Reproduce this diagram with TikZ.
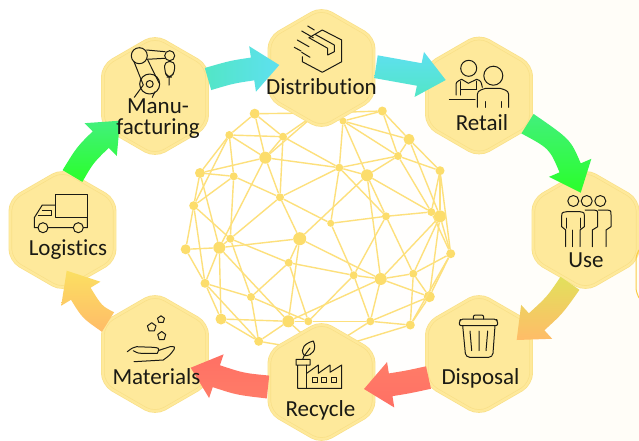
\documentclass[tikz,border=0pt]{standalone}
\usepackage{fontspec}
\setmainfont{Carlito}[Ligatures=NoCommon]
\usetikzlibrary{calc,shapes.geometric}

\definecolor{globecol}{HTML}{FCDD6C}
\definecolor{globeline}{HTML}{FDE07C}
\definecolor{hexfill}{HTML}{FEE99B}
\definecolor{hexline}{HTML}{F9E088}
\definecolor{inkcol}{HTML}{1A1A14}
\definecolor{bgcream}{HTML}{FFFDF7}
\definecolor{arcgold}{HTML}{FBCB45}
\definecolor{limecol}{HTML}{2AFF2A}
\definecolor{mintcol}{HTML}{42F07C}
\definecolor{tealcol}{HTML}{52E6C6}
\definecolor{cyancol}{HTML}{5EE0F0}
\definecolor{corecol}{HTML}{FF7064}
\definecolor{salmoncol}{HTML}{FF7C68}
\definecolor{ambercol}{HTML}{FFBC68}
\definecolor{sandcol}{HTML}{FBDF62}
\definecolor{olivecol}{HTML}{E2E05C}

\tikzset{
  hexcell/.style={regular polygon,regular polygon sides=6,shape border rotate=30,minimum size=120.5pt,inner sep=0pt,
    rounded corners=11pt,fill=hexfill,draw=hexline,line width=0.7pt,double=hexfill,double distance=2.2pt},
  hexlabel/.style={text=inkcol,font=\fontsize{23}{21}\selectfont,inner sep=0pt,align=center},
  icon/.style={draw=inkcol,line width=1pt,line join=round,line cap=round}
}

% body of a gradient arrow: tail, bend, tip, shading
\newcommand{\flowarrow}[4]{%
  \coordinate (neck) at ($(#3)!27pt!(#2)$);
  \shade[#4] ($(#1)!11.5pt!90:(#2)$) .. controls ($(#2)!11.5pt!90:(neck)$) .. ($(neck)!11.5pt!90:(#3)$)
    -- ($(neck)!23pt!90:(#3)$) -- (#3) -- ($(neck)!23pt!-90:(#3)$) -- ($(neck)!11.5pt!-90:(#3)$)
    .. controls ($(#2)!11.5pt!-90:(neck)$) .. ($(#1)!11.5pt!-90:(#2)$) -- cycle;
}

\begin{document}
\begin{tikzpicture}[x=1pt,y=-1pt]
\useasboundingbox (0,0) rectangle (639,440);
\shade[left color=white,right color=bgcream,middle color=white] (0,0) rectangle (639,440);

% globe
\begin{scope}[every node/.style={circle,fill=globecol,inner sep=0pt},
              every edge/.style={draw=globeline,line width=1.4pt}]
\foreach \pname/\px/\py/\psize in {
    gA/254.7/113.7/10, gB/229.3/135/8, gC/283/136.7/8, gD/265.3/157.7/12, gE/200/173/10,
    gF/233.7/176.3/8, gG/193.7/205.7/9, gH/280/197.3/8, gI/230.3/238.7/8, gJ/219.3/247.7/12,
    gK/185.7/249.3/10, gL/299.7/238.7/13, gM/288.7/262.7/8, gN/205/283.3/9, gO/251/297/8,
    gP/221/319/11, gQ/288.3/321.3/12, gR/308.3/321.3/8, gS/258.7/341.3/9, gT/330.7/223.3/7,
    gU/339.3/167.7/8, gV/367/175.3/12, gW/343/121/7, gX/382.3/111/9, gY/409/139.3/11,
    gZ/398/156/8, ga/440/170.7/9, gb/386/216.3/8, gc/431.3/212/8, gd/440/216.3/12,
    ge/450.7/253.7/9, gf/413.3/273.7/8, gg/380.7/279/12, gh/353.7/275.3/8, gi/429.3/296.7/11,
    gj/370.3/321.3/8, gk/410.3/325/9, gm/317/113/7, gn/322/352/7}
  \node[minimum size=\psize pt] (\pname) at (\px,\py) {};
\foreach \from/\to in {
    gA/gB, gA/gD, gA/gm, gA/gC, gB/gC, gB/gD, gB/gF, gB/gE, gB/gG, gC/gD, gC/gH, gC/gU, gC/gm,
    gD/gE, gD/gH, gD/gJ, gD/gU, gU/gV, gE/gG, gE/gJ, gE/gF, gF/gG, gF/gH, gF/gI, gG/gK, gG/gI,
    gG/gN, gH/gI, gH/gU, gH/gL, gH/gT, gI/gJ, gI/gO, gI/gM, gJ/gK, gJ/gL, gJ/gN, gJ/gP, gJ/gQ,
    gK/gN, gL/gM, gL/gV, gL/gg, gL/gQ, gM/gO, gM/gR, gM/gh, gN/gO, gN/gP, gN/gS, gO/gS, gO/gR,
    gP/gQ, gP/gS, gQ/gR, gQ/gg, gQ/gS, gQ/gn, gR/gh, gR/gj, gT/gU, gT/gb, gT/gh, gU/gb, gU/gW,
    gU/gZ, gV/gb, gV/gg, gV/gZ, gV/gc, gV/gW, gW/gZ, gW/gX, gW/gY, gX/gY, gX/gZ, gX/gm, gY/gZ,
    gY/ga, gY/gd, gZ/gc, gZ/ga, ga/gc, ga/gd, ga/ge, gb/gc, gb/gf, gb/gh, gc/gd, gc/ge, gd/ge,
    gd/gf, gd/gg, gd/gi, gf/ge, gf/gg, gf/gi, gf/gk, gg/gh, gg/gi, gg/gj, gh/gj, gi/ge, gi/gj,
    gi/gk, gj/gk, ge/gk, gj/gn, gk/gn, gS/gn, gm/gW, gm/gD}
  \path (\from) edge (\to);
\end{scope}

% cells
\node[hexcell] (distribution) at (321.5,68) {};
\node[hexcell] (retail) at (479,95.5) {};
\node[hexcell] (use) at (585.5,230) {};
\node[hexcell] (disposal) at (479,354) {};
\node[hexcell] (recycle) at (321.5,382) {};
\node[hexcell] (materials) at (155,354) {};
\node[hexcell] (logistics) at (62.5,230) {};
\node[hexcell] (manu) at (155,96) {};

% cut off cell at the right edge
\coordinate (arcstart) at (639,250);
\coordinate (arcend) at (639,298);
\draw[arcgold,line width=1pt] (arcstart) .. controls (636,256) .. (636,264) -- (636,284) .. controls (636,291) .. (arcend);

% flow arrows
\coordinate (manuout) at (208,79);
\coordinate (manubend) at (232,72);
\coordinate (distin) at (279.3,65);
\flowarrow{manuout}{manubend}{distin}{left color=tealcol,right color=cyancol}
\coordinate (distout) at (376,66.7);
\coordinate (distbend) at (398,70);
\coordinate (retailin) at (445.7,80);
\flowarrow{distout}{distbend}{retailin}{top color=cyancol,bottom color=tealcol}
\coordinate (retailout) at (527.5,123.7);
\coordinate (retailbend) at (560,144);
\coordinate (usein) at (580.7,192.7);
\flowarrow{retailout}{retailbend}{usein}{top color=mintcol,bottom color=limecol}
\coordinate (useout) at (570,283.3);
\coordinate (usebend) at (555,305);
\coordinate (disposalin) at (516.7,340);
\flowarrow{useout}{usebend}{disposalin}{top color=olivecol,middle color=sandcol,bottom color=ambercol}
\coordinate (disposalout) at (428.5,377.5);
\coordinate (disposalbend) at (408,382);
\coordinate (recyclein) at (364,389);
\flowarrow{disposalout}{disposalbend}{recyclein}{top color=salmoncol,bottom color=corecol}
\coordinate (recycleout) at (268,387);
\coordinate (recyclebend) at (240,384);
\coordinate (materialsin) at (190.7,367.7);
\flowarrow{recycleout}{recyclebend}{materialsin}{top color=corecol,bottom color=salmoncol}
\coordinate (materialsout) at (108,322);
\coordinate (materialsbend) at (92,312);
\coordinate (logisticsin) at (66.7,270.7);
\flowarrow{materialsout}{materialsbend}{logisticsin}{top color=sandcol,bottom color=ambercol}
\coordinate (logisticsout) at (72.5,176);
\coordinate (logisticsbend) at (85,155);
\coordinate (manuin) at (120,120.7);
\flowarrow{logisticsout}{logisticsbend}{manuin}{top color=mintcol,bottom color=limecol}

% labels
\node[hexlabel] (manutext) at (158,119) {Manu-\\[0pt]facturing};
\node[hexlabel] (distributiontext) at (321.5,87) {Distribution};
\node[hexlabel] (retailtext) at (482,122.5) {Retail};
\node[hexlabel] (usetext) at (586,260) {Use};
\node[hexlabel] (disposaltext) at (480.5,378) {Disposal};
\node[hexlabel] (recycletext) at (320.5,410) {Recycle};
\node[hexlabel] (materialstext) at (156.5,377) {Materials};
\node[hexlabel] (logisticstext) at (68,250) {Logistics};

% robot
\draw[icon] (139.3,55.7) circle (8) (169.7,55.7) circle (5) (149.7,84) circle (10) (149.7,84) circle (3.5);
\draw[icon] (146.7,50) -- (165,51.7) (146.7,59.3) -- (165,58.3) (169,76.7) -- (169,85);
\draw[icon,rounded corners=4pt] (164.7,61.7) -- (174.7,61.7) -- (174.7,72) -- (171,77) -- (167.5,77) -- (164.7,72) -- cycle;
\draw[icon] (134,61.7) -- (143.3,85) -- (134.3,97.3) (147.7,60) -- (159.3,83.3) (155,91.7) -- (152.3,97.3);
% box
\draw[icon] (309,37.7) -- (322.3,30) -- (341.7,40) -- (341.7,61.7) -- (322.3,72.3) -- (302.3,61.7) -- (302.3,56.7);
\draw[icon] (315,34.3) -- (334.3,45) -- (334.3,51.7) -- (327.7,55) -- (327.7,48.3) -- (309,37.7);
\draw[icon] (307.7,26) -- (314.3,30) (301.7,31) -- (313.3,37.7) (297.3,40) -- (309,46.7) (294.3,47.3) -- (301,51) (301.7,52.3) -- (310,57.3);
% retail
\draw[icon] (468.7,68.3) circle (8) (493.3,75.7) circle (9.5);
\draw[icon] (456,95) -- (456,86.7) .. controls (456,82) .. (461.7,79.3) -- (468.3,83.3) -- (476.7,79.3) .. controls (481,81) .. (482.3,87.3);
\draw[icon] (460.7,95) -- (460.7,81.7) (476.7,81) -- (476.7,89.3) (460.7,89.3) -- (476.7,89.3) (449.3,99) -- (475,99);
\draw[icon] (477.3,107.3) -- (477.3,98.3) .. controls (477.3,91) .. (485.7,88.3) -- (500,88.3) .. controls (508.7,91) .. (508.7,98.3) -- (508.7,107.3);
\draw[icon] (485.7,101.7) -- (485.7,107.3) (501,101.7) -- (501,107.3);
% people
\draw[icon] (573.3,201) circle (5.5) (586.7,201) circle (5.5) (600.3,201) circle (5.5);
\draw[icon] (565.7,246.7) -- (565.7,230) -- (561.7,226.7) -- (561.7,216.7) .. controls (561.7,212.5) .. (566.7,211.7) -- (580,211.7) .. controls (584.3,212.5) .. (584.3,216.7) -- (584.3,226.7) -- (580,230) -- (580,246.7);
\draw[icon] (572.7,230) -- (572.7,246.7) (566,218) -- (566,228) (580,218) -- (580,228);
\draw[icon] (585,210) -- (593.3,210) .. controls (597.7,210.5) .. (597.7,215) -- (597.7,226.7) -- (592.3,230) -- (592.3,246.7);
\draw[icon] (598.3,210) -- (606.7,210) .. controls (611,210.5) .. (611,215) -- (611,226.7) -- (606,230) -- (606,246.7);
% bin
\draw[icon,rounded corners=2pt] (459.3,325.7) -- (459.3,321) -- (461,319) -- (496,319) -- (497.7,321) -- (497.7,325.7) -- cycle;
\draw[icon,rounded corners=2pt] (473.3,319) -- (473.3,315) -- (483.7,315) -- (483.7,319);
\draw[icon,rounded corners=4pt] (462.7,325.7) -- (465.7,357.3) -- (492.7,357.3) -- (495,325.7);
\draw[icon] (470,331) -- (471.7,350.7) (479,331) -- (479,350.7) (487.7,331) -- (486,350.7);
% factory
\draw[icon] (296,359.3) rectangle (310,365) (297.7,365) -- (297.7,388.3) -- (341.7,388.3) -- (341.7,365) -- (330,372.3) -- (330,365) -- (318.3,373.3) -- (318.3,365) -- (306.7,373.3);
\draw[icon] (306.7,365) -- (306.7,388.3);
\draw[icon] (312.3,377.3) rectangle (317.3,382.7) (321.7,377.3) rectangle (326.7,382.7) (331.7,377.3) rectangle (336.7,382.7);
\draw[icon] (302.7,359) -- (304.3,355.7) .. controls (299,348) and (306,343) .. (313.3,341) .. controls (317,349) and (313,356) .. (304.3,355.7) (304.3,355.7) -- (310,348);
% truck
\draw[icon] (55,194) rectangle (87.3,217.3);
\draw[icon] (43,227.7) circle (5) (78.3,227.7) circle (5);
\draw[icon] (48,227.7) -- (73.3,227.7) (83.3,227.7) -- (87.3,227.7) -- (87.3,217.3) (38,227.7) -- (34.3,227.7) -- (34.3,217.7) -- (42.3,205) -- (55,205);
\draw[icon] (42.3,210) -- (51.7,210) -- (51.7,215) -- (38.3,215);
% hand
\draw[icon] (151.7,322.7) -- (156,325.8) -- (154.4,330.8) -- (149,330.8) -- (147.4,325.8) -- cycle;
\draw[icon] (161,315.8) -- (164.5,318.3) -- (163.2,322.4) -- (158.8,322.4) -- (157.5,318.3) -- cycle;
\draw[icon] (161.7,331.5) -- (165.7,334.5) -- (164.2,339.5) -- (159.2,339.5) -- (157.7,334.5) -- cycle;
\draw[icon] (127.3,351.7) .. controls (132,348) .. (136.7,346.7) -- (153.3,347.3) .. controls (159,348) .. (158.3,351) .. controls (158,353) .. (157.3,353.3) -- (145,353.3);
\draw[icon] (158.5,350.5) -- (170,346.7) .. controls (175,346.5) .. (174,349.5) .. controls (170,355) .. (163.3,360) -- (134,361.7);
\draw[icon] (133.3,350.7) .. controls (138,353.3) .. (145,353.3);
\end{tikzpicture}
\end{document}
